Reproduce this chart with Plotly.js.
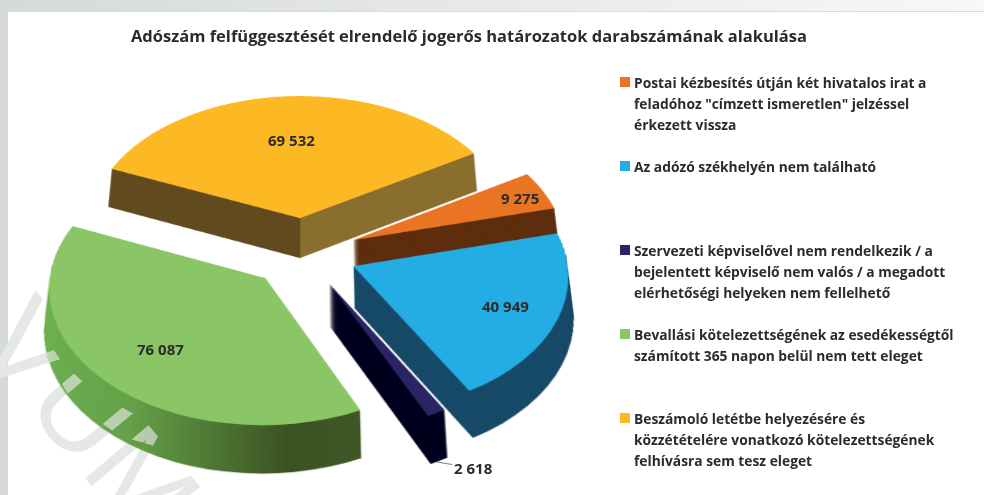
<!DOCTYPE html>
<html><head><meta charset="utf-8">
<script src="https://cdn.plot.ly/plotly-3.0.1.min.js"></script>
<style>
html,body{margin:0;padding:0;width:984px;height:495px;overflow:hidden;background:linear-gradient(90deg,#d5d9da 0,#e6e8e8 45%,#f7f8f8 100%);}
#panel{position:absolute;left:8px;top:11px;width:976px;height:484px;background:#fff;border-top:1px solid #d8dbdb;box-sizing:border-box;}
.mark{position:absolute;left:4px;top:256px;font:400 120px/1 "Liberation Sans",sans-serif;color:#e6e7e7;transform:rotate(50deg);transform-origin:0 50%;white-space:nowrap;}
#chart{position:absolute;left:0;top:0;width:984px;height:495px;}
#chart svg.main-svg:first-of-type{overflow:visible;}
#sideWrap{position:absolute;left:0;top:0;width:984px;height:495px;pointer-events:none;clip-path:polygon(40px 330px,62px 362px,88px 387px,130px 412px,175px 431px,175px 452px,120px 436px,75px 405px,50px 365px);}
#sideWrap .mark{color:rgba(235,235,235,.62);}
</style></head><body>
<div id="panel"></div><div class="mark">VUM</div><div id="chart"></div>
<div id="sideWrap"><div class="mark" aria-hidden="true"></div></div>
<script>
const chartTitle = 'Adószám felfüggesztését elrendelő jogerős határozatok darabszámának alakulása';
const categories = [
 'Postai kézbesítés útján két hivatalos irat a<br>feladóhoz "címzett ismeretlen" jelzéssel<br>érkezett vissza<br> ',
 'Az adózó székhelyén nem található<br> <br> <br> ',
 'Szervezeti képviselővel nem rendelkezik / a<br>bejelentett képviselő nem valós / a megadott<br>elérhetőségi helyeken nem fellelhető<br> ',
 'Bevallási kötelezettségének az esedékességtől<br>számított 365 napon belül nem tett eleget<br> <br> ',
 'Beszámoló letétbe helyezésére és<br>közzétételére vonatkozó kötelezettségének<br>felhívásra sem tesz eleget<br> <br> '
];
const values = [9275, 40949, 2618, 76087, 69532];
const valueLabels = ['9 275', '40 949', '2 618', '76 087', '69 532'];
const topColors = ['#e97423', '#24ade4', '#2a2464', '#8ac665', '#fdb924'];
const sideColors = ['#5e2e0e', '#174a68', '#00001f', '#4f7a35', '#75592a'];
const pulls = [0.25, 0.25, 0.25, 0.258, 0.265];
const labelPos = [[520,198],[505,306],null,[160,349],[291,140]];

const W = 984, H = 495, box = 436, depth = 52, left = 42;
const traces = [];
for (let d = depth; d >= 0; d--) {
  traces.push({
    type: 'pie', values: values, labels: categories, sort: false, direction: 'clockwise',
    rotation: 59, pull: pulls, textinfo: 'none', hoverinfo: 'skip',
    showlegend: d === 0,
    marker: {colors: d === 0 ? topColors : sideColors, line: {width: 0}},
    domain: {x: [left / W, (left + box) / W], y: [(H - box - d) / H, (H - d) / H]}
  });
}
const textFont = 'Open Sans, Lato, sans-serif';
const font = {family: textFont, color: '#2b2b2b'};
const annotations = [];
labelPos.forEach((p, i) => { if (p) annotations.push({
  xref: 'paper', yref: 'paper', x: p[0] / W, y: 1 - p[1] / H, xanchor: 'center', yanchor: 'middle',
  text: valueLabels[i], showarrow: false,
  font: Object.assign({size: 15, weight: 700}, font)}); });
annotations.push({xref: 'paper', yref: 'paper', x: 437 / W, y: 1 - 462 / H, text: valueLabels[2], showarrow: true,
  arrowhead: 0, arrowwidth: 0.7, arrowcolor: '#444', ax: 36, ay: 6, standoff: 0,
  font: Object.assign({size: 15, weight: 700}, font)});

const layout = {
  width: W, height: H, margin: {l: 0, r: 0, t: 0, b: 0},
  paper_bgcolor: 'rgba(0,0,0,0)', plot_bgcolor: 'rgba(0,0,0,0)',
  title: {text: chartTitle, x: 469 / W, xanchor: 'center', y: 1 - 36 / H, yanchor: 'middle',
    font: Object.assign({size: 16.5, weight: 700}, font)},
  legend: {x: 605 / W, xanchor: 'left', y: 1 - 73 / H, yanchor: 'top', bgcolor: 'rgba(0,0,0,0)',
    font: Object.assign({size: 13.8, weight: 700}, font), itemclick: false, itemdoubleclick: false},
  annotations: annotations
};

document.querySelectorAll('.mark').forEach(m => { m.textContent = 'VUM'; });

Plotly.newPlot('chart', traces, layout, {displayModeBar: false, staticPlot: true}).then(() => {
  const gd = document.getElementById('chart');
  const svg = gd.querySelector('svg.main-svg');
  const NS = 'http://www.w3.org/2000/svg';
  const defs = document.createElementNS(NS, 'defs');
  const grad = (id, stops) => {
    const g = document.createElementNS(NS, 'linearGradient');
    g.setAttribute('id', id);
    stops.forEach(s => { const e = document.createElementNS(NS, 'stop');
      e.setAttribute('offset', s[0]); e.setAttribute('stop-color', s[1]); g.appendChild(e); });
    defs.appendChild(g);
  };
  grad('greenSide', [[0, '#6cb04f'], [0.3, '#64a048'], [0.78, '#3b5222'], [1, '#3f5826']]);
  grad('yellowSide', [[0, '#614a1e'], [0.518, '#614a1e'], [0.518, '#8a6e2e'], [1, '#8a6e2e']]);
  svg.appendChild(defs);
  const pieTraces = svg.querySelectorAll('.pielayer .trace');
  pieTraces.forEach((t, i) => {
    if (i === pieTraces.length - 1) return;
    const ps = t.querySelectorAll('.slice path.surface');
    ps[3].style.fill = 'url(#greenSide)';
    ps[4].style.fill = 'url(#yellowSide)';
  });
  const cx = left + box / 2, cy = box / 2, S = 1.236;
  svg.style.transformOrigin = cx + 'px ' + cy + 'px';
  svg.style.transform = 'translate(' + (304 - cx) + 'px,' + (253 - cy) + 'px) perspective(2590px) rotateX(50.95deg) scale(' + S + ')';
  const items = gd.querySelectorAll('.legend .traces');
  items.forEach((it, i) => {
    it.setAttribute('transform', 'translate(0,' + (9 + i * 84) + ')');
    const txt = it.querySelector('text.legendtext');
    txt.setAttribute('x', 29);
    txt.querySelectorAll('tspan.line').forEach((l, k) => {
      l.removeAttribute('dy'); l.setAttribute('x', 29); l.setAttribute('y', 6 + k * 21);
    });
    const m = it.querySelector('.legendpoints path');
    if (m) m.setAttribute('d', 'M5,5H-5V-5H5Z');
  });
});
</script></body></html>
